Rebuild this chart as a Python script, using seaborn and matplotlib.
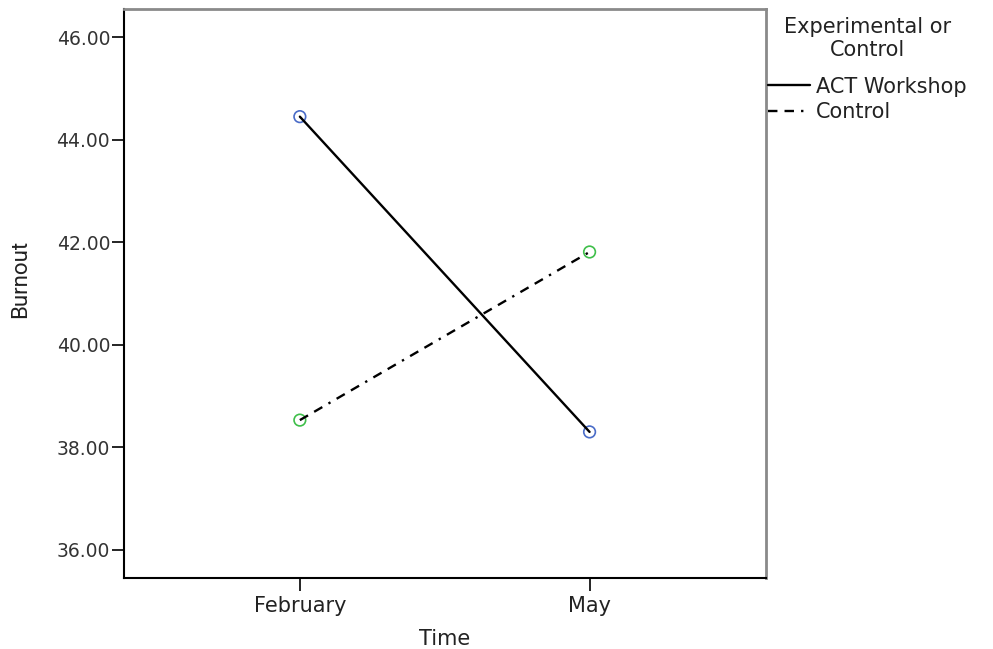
import matplotlib
matplotlib.use("Agg")
import matplotlib.pyplot as plt
import seaborn as sns
import pandas as pd

times = ["February", "May"]
groups = ["ACT Workshop", "Control"]
act_values = [44.45, 38.30]
control_values = [38.53, 41.81]
y_ticks = [36, 38, 40, 42, 44, 46]

df = pd.DataFrame({
    "Time": times * 2,
    "Group": [groups[0]] * 2 + [groups[1]] * 2,
    "Burnout": act_values + control_values,
})

sns.set_theme(style="white")
plt.rcParams["font.family"] = ["DejaVu Sans"]

fig = plt.figure(figsize=(9.93, 6.49), dpi=100)
ax = fig.add_axes([124 / 993, 1 - 578 / 649, 642 / 993, 569 / 649])

sns.scatterplot(data=df, x="Time", y="Burnout", hue="Group",
                palette=["#4a6cc8", "#3fbf4a"], s=70, marker="o",
                linewidth=1.2, legend=False, ax=ax, zorder=2)
coll = ax.collections[0]
fc = coll.get_facecolors()
coll.set_edgecolors(fc)
coll.set_facecolors("none")

sns.lineplot(data=df, x="Time", y="Burnout", hue="Group", style="Group",
             palette=["black", "black"],
             dashes={groups[0]: "", groups[1]: (4, 3, 4, 3, 1, 3)},
             lw=1.7, sort=False, ax=ax, zorder=3)

ax.set_xlim(-0.607, 1.609)
ax.set_ylim(35.45, 46.55)
ax.set_yticks(y_ticks)
ax.set_yticklabels([f"{v:.2f}" for v in y_ticks])

ax.tick_params(axis="both", direction="out", length=9, width=1.2, color="black",
               left=True, bottom=True, right=False, top=False)
ax.tick_params(axis="y", labelsize=13.5, labelcolor="#333333", pad=1)
ax.tick_params(axis="x", labelsize=15, labelcolor="#222222", pad=4)

for side in ["left", "bottom"]:
    ax.spines[side].set_color("black")
    ax.spines[side].set_linewidth(1.5)
for side in ["top", "right"]:
    ax.spines[side].set_color("#8a8a8a")
    ax.spines[side].set_linewidth(2.0)

ax.set_xlabel("Time", fontsize=15, color="#222222", labelpad=9)
ax.set_ylabel("Burnout", fontsize=16, family=["Roboto", "DejaVu Sans"], color="#222222")
ax.yaxis.set_label_coords(-0.145, 0.525)

handles, labels = ax.get_legend_handles_labels()
leg = ax.legend(handles=handles, labels=labels, title="Experimental or\nControl",
                loc="upper left", bbox_to_anchor=(1.0, 0.99), frameon=False,
                fontsize=15, title_fontsize=15, handlelength=2.0, handletextpad=0.3,
                borderaxespad=0, borderpad=0.1, labelspacing=0.25,
                alignment="center")
leg._legend_box.sep = 12
for h in leg.legend_handles:
    h.set_linewidth(1.7)
    h.set_color("black")
leg.get_title().set_multialignment("center")
leg.get_title().set_color("#222222")
for t in leg.get_texts():
    t.set_color("#222222")

fig.savefig("out.png", dpi=100, facecolor="white")
